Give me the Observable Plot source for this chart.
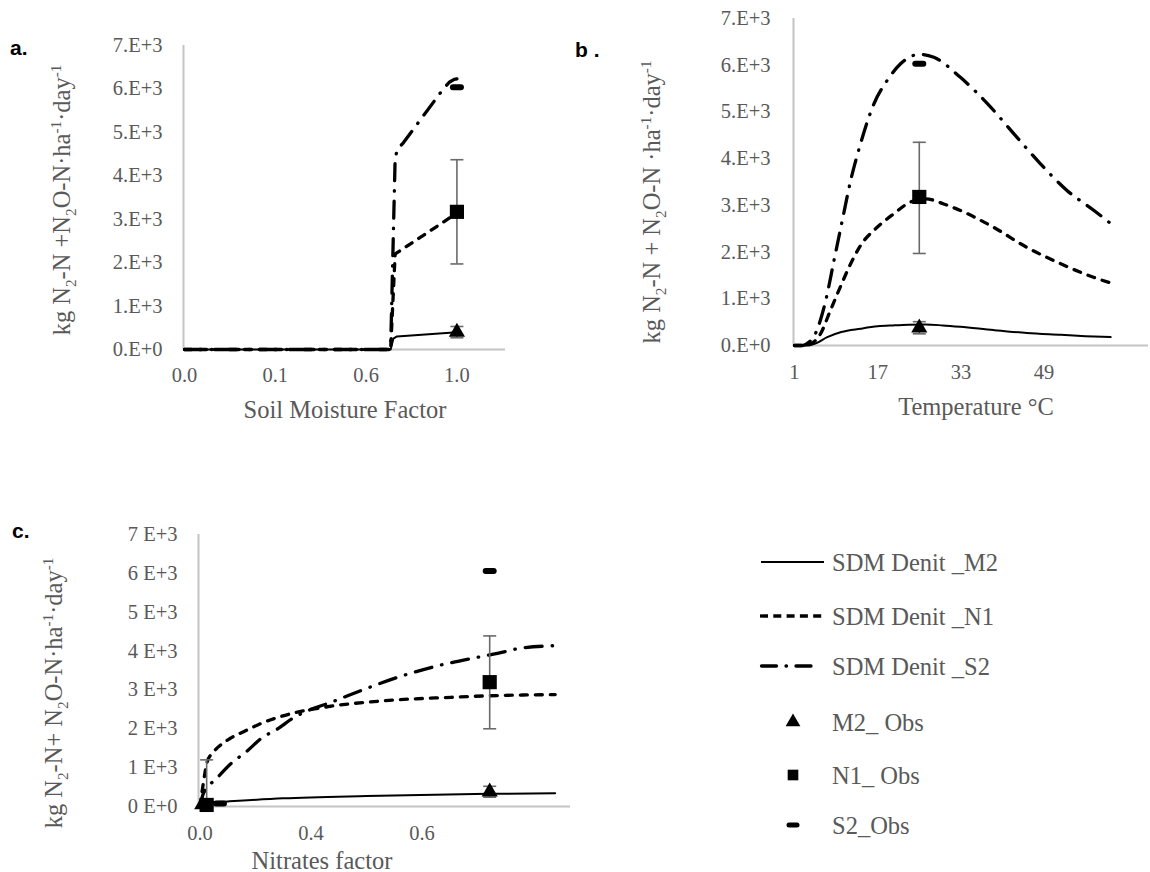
<!DOCTYPE html>
<html><head><meta charset="utf-8">
<script src="https://cdn.jsdelivr.net/npm/d3@7"></script>
<script src="https://cdn.jsdelivr.net/npm/@observablehq/plot@0.6"></script>
<style>
body{margin:0;background:#fff;width:1150px;height:872px;position:relative;overflow:hidden;font-family:"Liberation Serif","Times New Roman",serif;}
.ytitle{position:absolute;font-size:24.5px;color:#595959;transform:translate(-50%,-50%) rotate(-90deg);white-space:nowrap;line-height:1;}
.xtitle{position:absolute;font-size:24.5px;color:#595959;transform:translate(-50%,-50%);white-space:nowrap;line-height:1;}
.plabel{position:absolute;font-family:"Liberation Sans",Arial,sans-serif;font-weight:bold;font-size:21px;color:#000;line-height:1;}
sub,sup{font-size:62%;line-height:0;}
svg{position:absolute;}
svg text{font-family:"Liberation Serif","Times New Roman",serif !important;}
</style></head>
<body>
<script>
// ---------- Data ----------
const yTicks = [0,1000,2000,3000,4000,5000,6000,7000];
const yTickLabelsAB = ["0.E+0","1.E+3","2.E+3","3.E+3","4.E+3","5.E+3","6.E+3","7.E+3"];
const yTickLabelsC  = ["0 E+0","1 E+3","2 E+3","3 E+3","4 E+3","5 E+3","6 E+3","7 E+3"];

// Panel a: soil moisture factor (category positions)
const moistTickPos = [0,1,2,3];
const moistTickLabels = ["0.0","0.1","0.6","1.0"];
const moistM2X = [0, 2.27, 2.30, 2.34, 3.0];
const moistM2Y = [0, 0, 250, 300, 400];
const moistN1X = [0, 2.27, 2.32, 3.0];
const moistN1Y = [0, 0, 2200, 3140];
const moistS2X = [0, 2.27, 2.32, 2.35, 2.41, 2.85, 2.92, 2.97, 3.0];
const moistS2Y = [0, 0, 4430, 4620, 4760, 6000, 6160, 6220, 6230];
const moistObsX = [3.0, 3.0, 3.0];
const moistObsY = [400, 3170, 6040];
const moistErrX = [3.0, 3.0];
const moistErrLo = [270, 1970];
const moistErrHi = [530, 4370];

// Panel b: temperature °C
const tempTicks = [1,17,33,49];
const tempM2X = [1, 3.5, 5, 7.3, 10, 13.7, 17, 20, 23, 26.2, 29.5, 32.9, 39.3, 45.7, 52.2, 57, 61.8];
const tempM2Y = [0, 0, 40, 180, 290, 360, 410, 430, 445, 450, 430, 400, 330, 270, 230, 200, 180];
const tempN1X = [1, 3, 4.1, 6, 7.9, 9.8, 11.8, 13.7, 16.9, 20.1, 23.3, 26.2, 29.7, 32.9, 39.3, 45.7, 52.2, 58.5, 61.8];
const tempN1Y = [0, 0, 30, 250, 750, 1250, 1750, 2140, 2530, 2820, 3070, 3140, 3030, 2890, 2530, 2100, 1750, 1460, 1340];
const tempS2X = [1, 2.5, 3.4, 5, 7, 8.6, 10.2, 11.8, 13.7, 16.3, 18.8, 21.4, 23.9, 25.2, 27.8, 32.9, 38.1, 43.2, 48.3, 53.4, 58.6, 61.8];
const tempS2Y = [0, 0, 40, 250, 960, 1820, 2680, 3530, 4320, 5180, 5670, 6030, 6210, 6230, 6170, 5740, 5180, 4530, 3890, 3320, 2890, 2610];
const tempObsX = [25, 25, 25];
const tempObsY = [380, 3180, 6030];
const tempErrX = [25, 25];
const tempErrLo = [250, 1970];
const tempErrHi = [510, 4350];

// Panel c: nitrates factor (category positions)
const nitTickPos = [0,1,2];
const nitTickLabels = ["0.0","0.4","0.6"];
const nitM2X = [0, 0.03, 0.25, 0.75, 1.5, 2.6, 3.2];
const nitM2Y = [0, 90, 130, 210, 270, 325, 340];
const nitN1X = [0, 0.03, 0.065, 0.12, 0.16, 0.27, 0.41, 0.52, 0.82, 1.11, 1.65, 2.26, 2.61, 3.2];
const nitN1Y = [0, 600, 1150, 1400, 1520, 1750, 1950, 2100, 2390, 2550, 2720, 2810, 2850, 2880];
const nitS2X = [0, 0.03, 0.15, 0.27, 0.43, 0.55, 0.7, 0.84, 1.0, 1.18, 1.33, 1.54, 1.83, 2.14, 2.5, 2.68, 2.86, 3.2];
const nitS2Y = [0, 330, 720, 1080, 1440, 1750, 2000, 2280, 2500, 2680, 2850, 3080, 3370, 3620, 3840, 3940, 4060, 4140];
const nitObsX = [2.61, 2.61, 2.61];
const nitObsY = [380, 3200, 6060];
const nitObs0X = [0.02, 0.06, 0.18];
const nitObs0Y = [50, 40, 80];
const nitErrX = [2.61, 2.61, 0.06];
const nitErrLo = [240, 2000, 0];
const nitErrHi = [520, 4390, 1200];

const seriesNames = ["SDM Denit _M2","SDM Denit _N1","SDM Denit _S2","M2_ Obs","N1_ Obs","S2_Obs"];

// ---------- Helpers ----------
const zip = (xs, ys) => xs.map((x, i) => ({x, y: ys[i]}));
const capSym = {draw(ctx){ ctx.moveTo(-6.5,0); ctx.lineTo(6.5,0); }};
const dashSym = {draw(ctx){ ctx.moveTo(-4,0); ctx.lineTo(4,0); }};
const GRID = "#c4c4c4", ERR = "#6a6a6a";
const lineStyles = [
  {stroke:"#000", strokeWidth:2},
  {stroke:"#000", strokeWidth:3.3, strokeDasharray:"7,8", strokeLinecap:"round"},
  {stroke:"#000", strokeWidth:3.3, strokeDasharray:"17,10,0.5,10", strokeLinecap:"round"}
];

function panel(o) {
  const obs = o.obsX.map((x, i) => ({x, y: o.obsY[i], k: i % 3}));
  const errs = o.errX.map((x, i) => ({x, lo: o.errLo[i], hi: o.errHi[i]}));
  const marks = [
    Plot.ruleY([0], {stroke: GRID, strokeWidth: 2}),
    Plot.ruleX([o.xDomain[0]], {y1: 0, y2: 7000, stroke: GRID, strokeWidth: 2}),
    Plot.line(zip(o.m2x, o.m2y), {x:"x", y:"y", curve:o.curve, ...lineStyles[0]}),
    Plot.line(zip(o.n1x, o.n1y), {x:"x", y:"y", curve:o.curve, ...lineStyles[1]}),
    Plot.line(zip(o.s2x, o.s2y), {x:"x", y:"y", curve:o.curve, ...lineStyles[2]}),
    Plot.ruleX(errs, {x:"x", y1:"lo", y2:"hi", stroke: ERR, strokeWidth: 1.6}),
    Plot.dot(errs, {x:"x", y:"hi", symbol: capSym, r: 5, fill:"none", stroke: ERR, strokeWidth: 1.6}),
    Plot.dot(errs.filter(d => d.lo > 0), {x:"x", y:"lo", symbol: capSym, r: 5, fill:"none", stroke: ERR, strokeWidth: 1.6}),
    Plot.dot(obs.filter(d => d.k === 0), {x:"x", y:"y", symbol:"triangle", r:6, fill:"#000", stroke:"none"}),
    Plot.dot(obs.filter(d => d.k === 1), {x:"x", y:"y", symbol:"square", r:8, fill:"#000", stroke:"none"}),
    Plot.dot(obs.filter(d => d.k === 2), {x:"x", y:"y", symbol: dashSym, r:5, fill:"none", stroke:"#000", strokeWidth:6, strokeLinecap:"round"})
  ];
  const svg = Plot.plot({
    width: o.width, height: o.height,
    marginLeft: o.ml, marginRight: o.mr, marginTop: o.mt, marginBottom: o.mb,
    style: {fontFamily: '"Liberation Serif","Times New Roman",serif', fontSize: "20.5px", color: "#595959", background: "transparent", overflow: "visible"},
    x: {type: "linear", domain: o.xDomain, ticks: o.xTicks, tickFormat: o.xFmt, tickSize: 0, tickPadding: o.xPad, label: null},
    y: {domain: [0, 7000], ticks: yTicks, tickFormat: o.yFmt, tickSize: 0, tickPadding: o.yPad, label: null},
    marks
  });
  svg.style.left = o.left + "px";
  svg.style.top = o.top + "px";
  svg.style.maxWidth = "none";
  document.body.appendChild(svg);
  return svg;
}

// Panel a
panel({
  left: 0, top: 0, width: 520, height: 400, ml: 183, mr: 15, mt: 45, mb: 51,
  xDomain: [-0.011, 3.535], xTicks: moistTickPos, xFmt: d => moistTickLabels[moistTickPos.indexOf(d)], xPad: 18,
  yFmt: d => yTickLabelsAB[yTicks.indexOf(d)], yPad: 21, curve: "linear",
  m2x: moistM2X, m2y: moistM2Y, n1x: moistN1X, n1y: moistN1Y, s2x: moistS2X, s2y: moistS2Y,
  obsX: moistObsX, obsY: moistObsY, errX: moistErrX, errLo: moistErrLo, errHi: moistErrHi
});

// Panel b
panel({
  left: 560, top: 0, width: 590, height: 430, ml: 233, mr: 2, mt: 18, mb: 85,
  xDomain: [0.81, 69.08], xTicks: tempTicks, xFmt: d => String(d), xPad: 19,
  yFmt: d => yTickLabelsAB[yTicks.indexOf(d)], yPad: 23, curve: "monotone-x",
  m2x: tempM2X, m2y: tempM2Y, n1x: tempN1X, n1y: tempN1Y, s2x: tempS2X, s2y: tempS2Y,
  obsX: tempObsX, obsY: tempObsY, errX: tempErrX, errLo: tempErrLo, errHi: tempErrHi
});

// Panel c
panel({
  left: 0, top: 460, width: 600, height: 412, ml: 198, mr: 30, mt: 74, mb: 66,
  xDomain: [-0.0135, 3.338], xTicks: nitTickPos, xFmt: d => nitTickLabels[nitTickPos.indexOf(d)], xPad: 19,
  yFmt: d => yTickLabelsC[yTicks.indexOf(d)], yPad: 21, curve: "monotone-x",
  m2x: nitM2X, m2y: nitM2Y, n1x: nitN1X, n1y: nitN1Y, s2x: nitS2X, s2y: nitS2Y,
  obsX: nitObsX.concat(nitObs0X), obsY: nitObsY.concat(nitObs0Y), errX: nitErrX, errLo: nitErrLo, errHi: nitErrHi
});

// ---------- Titles ----------
function addDiv(cls, html, x, y) {
  const d = document.createElement("div");
  d.className = cls; d.innerHTML = html;
  d.style.left = x + "px"; d.style.top = y + "px";
  document.body.appendChild(d);
}
addDiv("ytitle", "kg N<sub>2</sub>-N +N<sub>2</sub>O-N·ha<sup>-1</sup>·day<sup>-1</sup>", 62, 200);
addDiv("ytitle", "kg N<sub>2</sub>-N + N<sub>2</sub>O-N ·ha<sup>-1</sup>·day<sup>-1</sup>", 652, 202);
addDiv("ytitle", "kg N<sub>2</sub>-N+ N<sub>2</sub>O-N·ha<sup>-1</sup>·day<sup>-1</sup>", 54, 693);
addDiv("xtitle", "Soil Moisture Factor", 345, 410);
addDiv("xtitle", "Temperature °C", 976, 407);
addDiv("xtitle", "Nitrates factor", 322, 861);
addDiv("plabel", "a.", 10, 37);
addDiv("plabel", "b .", 575, 39);
addDiv("plabel", "c.", 12, 520);

// ---------- Legend ----------
const lg = d3.select(document.body).append("svg")
  .attr("width", 400).attr("height", 340)
  .style("left", "740px").style("top", "520px");
const rowY = [42, 96, 146, 202, 255, 305];
const lineSeg = [[21, 84], [20, 85], [21.5, 72]];
const legendDash = [null, "8,5.3", "15,9.5,0.5,9.5,15"];
[0,1,2].forEach(i => {
  lg.append("line").attr("x1", lineSeg[i][0]).attr("x2", lineSeg[i][1])
    .attr("y1", rowY[i]).attr("y2", rowY[i])
    .attr("stroke", "#000").attr("stroke-width", i === 0 ? 2 : 3.3)
    .attr("stroke-dasharray", legendDash[i])
    .attr("stroke-linecap", i === 2 ? "round" : "butt");
});
lg.append("path").attr("d", d3.symbol(d3.symbolTriangle, Math.PI * 30)()).attr("transform", `translate(53,${rowY[3]})`).attr("fill", "#000");
lg.append("path").attr("d", d3.symbol(d3.symbolSquare, Math.PI * 36)()).attr("transform", `translate(53,${rowY[4]})`).attr("fill", "#000");
lg.append("line").attr("x1", 49).attr("x2", 57).attr("y1", rowY[5]).attr("y2", rowY[5]).attr("stroke", "#000").attr("stroke-width", 5).attr("stroke-linecap", "round");
seriesNames.forEach((name, i) => {
  lg.append("text").attr("x", 92).attr("y", rowY[i]).attr("dy", "0.35em")
    .attr("font-size", 24.5)
    .attr("fill", "#595959").text(name);
});
</script>
</body></html>
